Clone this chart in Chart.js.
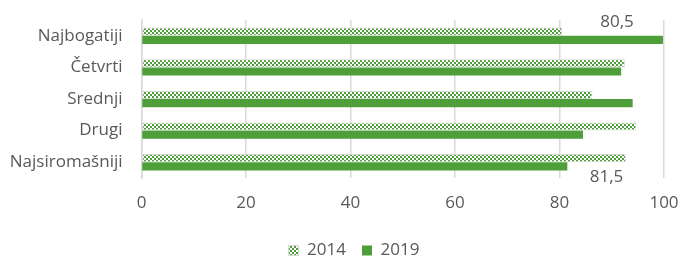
<!DOCTYPE html>
<html>
<head>
<meta charset="utf-8">
<script src="https://cdn.jsdelivr.net/npm/chart.js@4"></script>
<style>
  html, body { margin: 0; padding: 0; background: #ffffff; }
  #wrap { width: 683px; height: 257px; position: relative; }
</style>
</head>
<body>
<div id="wrap"><canvas id="c" width="683" height="257"></canvas></div>
<script>
const categories = ["Najbogatiji", "Četvrti", "Srednji", "Drugi", "Najsiromašniji"];
const series2014 = [80.5, 92.5, 86.3, 94.7, 92.7];
const series2019 = [99.8, 91.8, 94.0, 84.5, 81.5];
const seriesNames = ["2014", "2019"];
const xTicks = [0, 20, 40, 60, 80, 100];
// data labels shown in the reference: [datasetIndex, categoryIndex, text]
const dataLabels = [[0, 0, "80,5"], [1, 4, "81,5"]];

const GREEN = "#4e9f3a";
const TEXT = "#595959";
const FONT = "'Open Sans', sans-serif";

function makeChecker() {
  const p = document.createElement("canvas");
  p.width = 4; p.height = 4;
  const g = p.getContext("2d");
  g.fillStyle = "#ffffff";
  g.fillRect(0, 0, 4, 4);
  g.fillStyle = GREEN;
  g.fillRect(0, 0, 2, 2);
  g.fillRect(2, 2, 2, 2);
  return document.getElementById("c").getContext("2d").createPattern(p, "repeat");
}
const checker = makeChecker();

const labelPlugin = {
  id: "dlabels",
  afterLayout(chart) {
    // legend in the reference sits slightly right of the canvas centre
    if (chart.legend) { chart.legend.left += 22; chart.legend.right += 22; }
  },
  afterDatasetsDraw(chart) {
    const ctx = chart.ctx;
    const xs = chart.scales.x;
    ctx.save();
    ctx.font = "17px " + FONT;
    ctx.fillStyle = TEXT;
    ctx.textAlign = "center";
    dataLabels.forEach(([di, ci, txt]) => {
      const bar = chart.getDatasetMeta(di).data[ci];
      const val = chart.data.datasets[di].data[ci];
      const half = bar.height / 2;
      if (di === 0) {
        ctx.textBaseline = "bottom";
        ctx.fillText(txt, xs.getPixelForValue(val + 10.5), bar.y - half + 3);
      } else {
        ctx.textBaseline = "top";
        ctx.fillText(txt, xs.getPixelForValue(val + 7.5), bar.y + half - 2);
      }
    });
    ctx.restore();
  }
};

new Chart(document.getElementById("c"), {
  type: "bar",
  data: {
    labels: categories,
    datasets: [
      {
        label: seriesNames[0],
        data: series2014,
        backgroundColor: checker,
        borderColor: "#d4d4d4",
        borderWidth: 1,
        borderSkipped: false,
        barPercentage: 1.0,
        categoryPercentage: 0.52
      },
      {
        label: seriesNames[1],
        data: series2019,
        backgroundColor: GREEN,
        borderWidth: 0,
        barPercentage: 1.0,
        categoryPercentage: 0.52
      }
    ]
  },
  options: {
    indexAxis: "y",
    responsive: false,
    animation: false,
    devicePixelRatio: 1,
    layout: { padding: { top: 20, right: 19, left: 0, bottom: 0 } },
    plugins: {
      legend: {
        position: "bottom",
        maxHeight: 31,
        labels: {
          boxWidth: 10,
          boxHeight: 10,
          padding: 16,
          color: TEXT,
          font: { family: FONT, size: 17 }
        }
      },
      tooltip: { enabled: false }
    },
    scales: {
      x: {
        min: 0,
        max: 100,
        afterBuildTicks(scale) { scale.ticks = xTicks.map(v => ({ value: v })); },
        grid: { color: "#d9d9d9", lineWidth: 1.5, drawTicks: false },
        border: { display: false },
        ticks: { color: TEXT, font: { family: FONT, size: 17 }, padding: 15 },
        afterFit(scale) { scale.height = 48; scale.paddingLeft = 0; scale.paddingRight = 0; }
      },
      y: {
        grid: { display: false, drawTicks: false },
        border: { display: true, color: "#d9d9d9", width: 1.5 },
        ticks: { color: TEXT, font: { family: FONT, size: 17 }, padding: 19 },
        afterFit(scale) { scale.width = 141.5; scale.paddingTop = 0; scale.paddingBottom = 0; }
      }
    }
  },
  plugins: [labelPlugin]
});
</script>
</body>
</html>
